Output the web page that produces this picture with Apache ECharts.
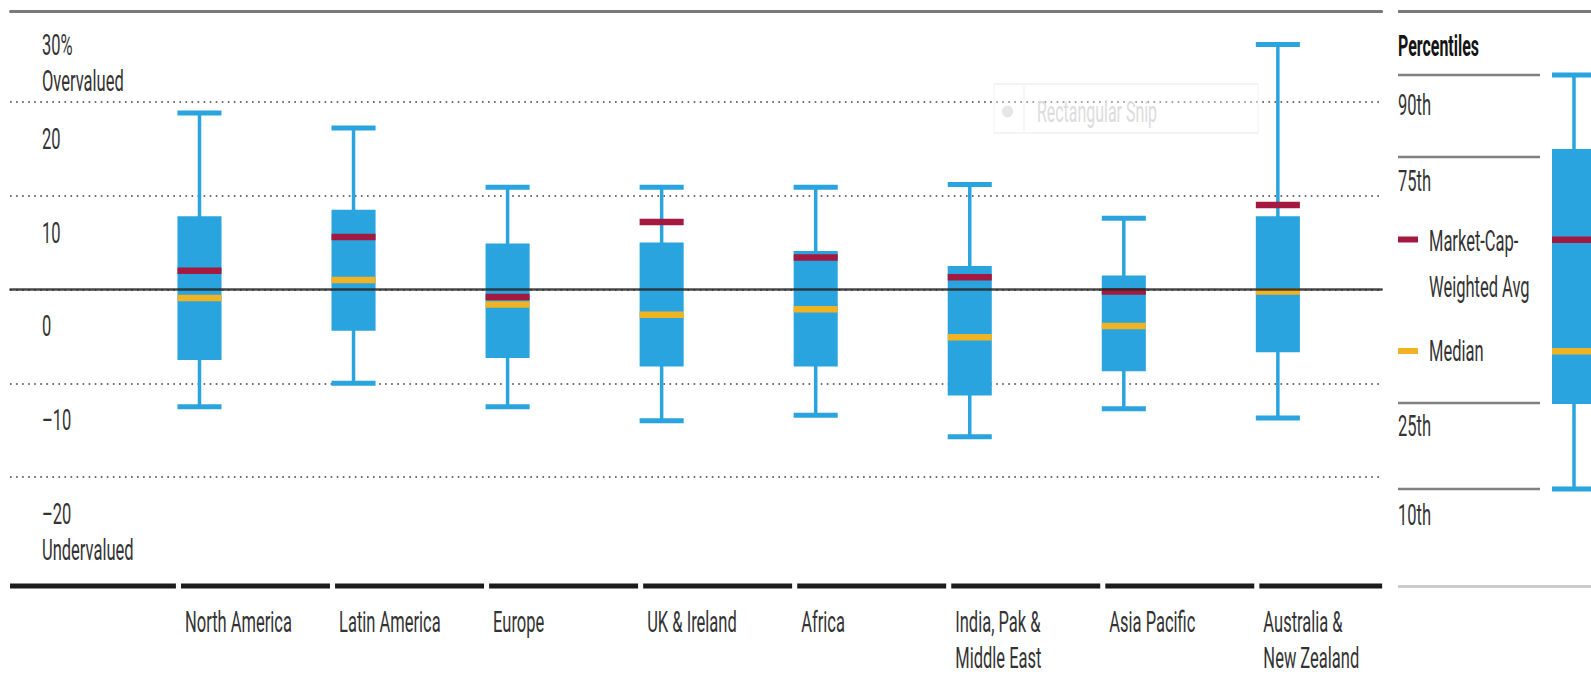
<!DOCTYPE html>
<html>
<head>
<meta charset="utf-8">
<script src="https://cdn.jsdelivr.net/npm/echarts@6/dist/echarts.min.js"></script>
<style>
  html, body { margin: 0; padding: 0; background: #fff; overflow: hidden; }
  /* the source picture is horizontally squeezed, so the chart is drawn wide and scaled down */
  #main { height: 679px; transform-origin: 0 0; }
</style>
</head>
<body>
<div id="main"></div>
<script>
// regions and percentile values (% over/under fair value)
const regions = ['North America', 'Latin America', 'Europe', 'UK & Ireland', 'Africa',
  'India, Pak &\nMiddle East', 'Asia Pacific', 'Australia &\nNew Zealand'];
const p90 = [18.8, 17.2, 10.9, 10.9, 10.9, 11.2, 7.6, 26.1];
const p75 = [7.8, 8.5, 4.9, 5.0, 4.1, 2.5, 1.5, 7.8];
const median = [-0.9, 1.0, -1.6, -2.7, -2.1, -5.1, -3.9, -0.2];
const p25 = [-7.5, -4.4, -7.3, -8.2, -8.2, -11.3, -8.7, -6.7];
const p10 = [-12.5, -10.0, -12.5, -14.0, -13.4, -15.7, -12.7, -13.7];
const mcapAvg = [2.0, 5.6, -0.8, 7.2, 3.4, 1.3, -0.2, 9.0];
const yTicks = { '30': '30%\nOvervalued', '20': '20', '10': '10', '0': '0',
  '-10': '\u201310', '-20': '\u201320\nUndervalued' };
const legendRows = ['90th', '75th', '25th', '10th'];

const SX = 0.55;           // horizontal squeeze
const W = 1591 / SX;
const X = v => v / SX;     // screen px -> chart px (x only)
const BLUE = '#2aa4de', RED = '#a3193f', YELLOW = '#f0b323';
const FONT = 'Roboto, "Liberation Sans", sans-serif';
const FS = 30;
const X_MIN = -1.23, X_MAX = 7.677;
const BASE = -31.6;        // where the black category rule sits

const el = document.getElementById('main');
el.style.width = W + 'px';
el.style.transform = 'scaleX(' + SX + ')';
const chart = echarts.init(el, null, { renderer: 'svg' });

const boxData = regions.map((r, i) => [i, p10[i], p25[i], median[i], p75[i], p90[i], mcapAvg[i]]);

function renderBox(params, api) {
  const i = api.value(0);
  const cx = api.coord([i, 0])[0];
  const unit = api.size([1, 0])[0];
  const half = unit * 0.143;
  const y = v => api.coord([i, v])[1];
  const bar = (v, h, color) => ({ type: 'rect', shape: { x: cx - half, y: y(v) - h / 2, width: half * 2, height: h }, style: { fill: color } });
  return {
    type: 'group',
    children: [
      { type: 'rect', shape: { x: cx - X(1.75), y: y(api.value(5)), width: X(3.5), height: y(api.value(1)) - y(api.value(5)) }, style: { fill: BLUE } },
      bar(api.value(5), 5, BLUE),
      bar(api.value(1), 5, BLUE),
      { type: 'rect', shape: { x: cx - half, y: y(api.value(4)), width: half * 2, height: y(api.value(2)) - y(api.value(4)) }, style: { fill: BLUE } },
      bar(api.value(3), 6.5, YELLOW),
      bar(api.value(6), 6.5, RED)
    ]
  };
}

function renderRule(params, api) {
  const i = api.value(0);
  const n = regions.length;
  const gap = 0.033;
  const seg = (a, b) => {
    const p1 = api.coord([a, BASE]), p2 = api.coord([b, BASE]);
    return { type: 'rect', shape: { x: p1[0], y: p1[1] - 2.5, width: p2[0] - p1[0], height: 5 }, style: { fill: '#1c1c1c' } };
  };
  const start = i - 0.12;
  const end = i === n - 1 ? X_MAX : i + 1 - 0.12 - gap;
  const children = [seg(start, end)];
  if (i === 0) children.push(seg(X_MIN, start - gap));
  const p = api.coord([start, BASE]);
  children.push({
    type: 'text', x: p[0] + X(4), y: p[1] + 18,
    style: { text: regions[i], fontSize: FS, fontFamily: FONT, fill: '#333', lineHeight: 36, verticalAlign: 'top', align: 'left' }
  });
  return { type: 'group', children };
}

// legend panel on the right
const lg = [];
const gline = (x1, x2, y, color, w) => ({ type: 'line', shape: { x1: X(x1), y1: y, x2: X(x2), y2: y }, style: { stroke: color, lineWidth: w } });
const gtext = (x, y, text, extra) => ({ type: 'text', x: X(x), y: y, style: Object.assign({ text, fontSize: FS, fontFamily: FONT, fill: '#333', verticalAlign: 'middle' }, extra || {}) });
const grect = (x, y, w, h, fill) => ({ type: 'rect', shape: { x: X(x), y, width: X(w), height: h }, style: { fill } });
lg.push(gline(1398, 1591, 11.5, '#7a7a7a', 3));
lg.push(gtext(1398, 46, 'Percentiles', { fontWeight: 'bold', fill: '#151515', fontSize: 29 }));
[75, 157, 403, 489].forEach((yy, k) => {
  lg.push(gline(1398, 1540, yy, '#808080', 2.5));
  lg.push(gtext(1398, [105.5, 181, 426, 515.5][k], legendRows[k]));
});
lg.push(grect(1398, 236.5, 20, 6, RED));
lg.push(gtext(1429, 218.5, 'Market-Cap-\nWeighted Avg', { verticalAlign: 'top', lineHeight: 46 }));
lg.push(grect(1398, 348, 20, 6, YELLOW));
lg.push(gtext(1429, 351, 'Median'));
lg.push(gline(1398, 1591, 586.5, '#cccccc', 3));
lg.push(grect(1572.25, 75, 3.5, 414, BLUE));
lg.push(grect(1552, 72.5, 44, 5, BLUE));
lg.push(grect(1552, 486.5, 44, 5, BLUE));
lg.push(grect(1552, 149, 44, 255, BLUE));
lg.push(grect(1552, 236.5, 44, 6.5, RED));
lg.push(grect(1552, 348, 44, 6.5, YELLOW));
// faint screen-capture overlay seen in the picture
lg.push({ type: 'rect', shape: { x: X(994), y: 84, width: X(264), height: 49 }, style: { fill: 'rgba(255,255,255,0.35)', stroke: '#eef0f3', lineWidth: 1.5 }, z: 50 });
lg.push({ type: 'ellipse', shape: { cx: X(1007.5), cy: 111.5, rx: X(5.5), ry: 6 }, style: { fill: '#e6e6e6' }, z: 51 });
lg.push({ type: 'line', shape: { x1: X(1024), y1: 86, x2: X(1024), y2: 131 }, style: { stroke: '#f0f0f0', lineWidth: 2 }, z: 51 });
lg.push({ type: 'text', x: X(1037), y: 112, style: { text: 'Rectangular Snip', fontSize: 29, fontFamily: FONT, fill: '#dcdcdc', verticalAlign: 'middle' }, z: 51 });

chart.setOption({
  animation: false,
  backgroundColor: '#fff',
  grid: { left: X(10), right: W - X(1382), top: 8, height: 563 },
  xAxis: [{
    type: 'value', min: X_MIN, max: X_MAX, z: 10,
    axisLine: { show: true, onZero: true, lineStyle: { color: 'rgba(40,40,40,0.85)', width: 2.5 } },
    axisTick: { show: false }, axisLabel: { show: false }, splitLine: { show: false }
  }, {
    type: 'value', position: 'top', min: X_MIN, max: X_MAX, offset: -3.5,
    axisLine: { show: true, onZero: false, lineStyle: { color: '#7a7a7a', width: 3 } },
    axisTick: { show: false }, axisLabel: { show: false }, splitLine: { show: false }
  }],
  yAxis: {
    type: 'value', min: -30, max: 30, interval: 10,
    axisLine: { show: false }, axisTick: { show: false },
    splitLine: { show: true, showMinLine: false, showMaxLine: false, lineStyle: { type: [3, 8], color: '#707070', width: 2 } },
    axisLabel: {
      inside: true, margin: X(32), align: 'left', verticalAlign: 'top',
      lineHeight: 36, padding: [19, 0, 0, 0], fontSize: FS, fontFamily: FONT, color: '#333',
      formatter: v => yTicks[String(v)] || ''
    }
  },
  graphic: lg,
  series: [{
    type: 'custom', name: 'rule', renderItem: renderRule,
    data: regions.map((r, i) => [i]), encode: { x: 0 }, clip: false, silent: true
  }, {
    type: 'custom', name: 'percentiles', renderItem: renderBox,
    data: boxData, encode: { x: 0, y: [1, 2, 3, 4, 5, 6] }, clip: false, z: 3
  }]
});
</script>
</body>
</html>
